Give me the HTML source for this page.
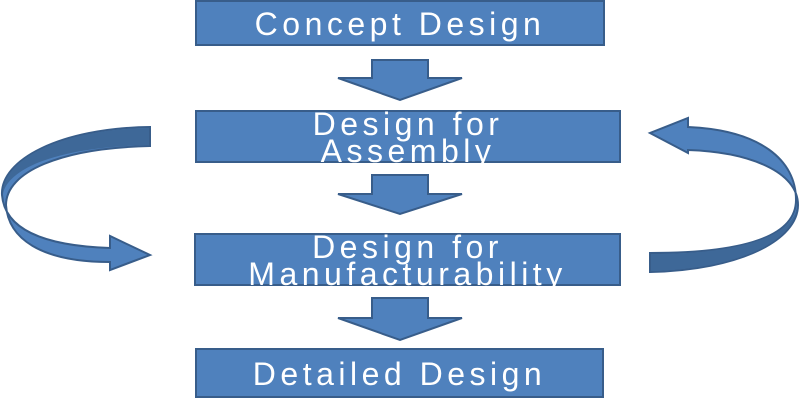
<!DOCTYPE html>
<html><head><style>
body{margin:0;width:800px;height:400px;background:#fff;overflow:hidden;position:relative;font-family:"Liberation Sans",sans-serif}
.b{position:absolute;background:#4f81bd;border:2px solid #385d8a;box-sizing:border-box;color:#fff;font-size:32px;letter-spacing:4.5px;display:flex;align-items:center;justify-content:center;text-align:center;line-height:27px;white-space:nowrap;padding-top:3px}
svg{position:absolute;left:0;top:0}
</style></head><body>
<svg width="800" height="400">
<g fill="#4f81bd" stroke="#385d8a" stroke-width="2">
<polygon points="372,60 428,60 428,78 462,78 400,100 338,78 372,78"/>
<polygon points="372,175 428,175 428,194 462,194 400,214 338,194 372,194"/>
<polygon points="372,298 428,298 428,318 462,318 400,340 338,318 372,318"/>
<path d="M150,127 C60,128 0,160 2,195 C5,232 50,246 110,248 L110,236 L150,255 L110,270 L110,262 C40,262 8,238 6,205 C6,172 60,148 150,146 Z"/>
<path d="M650,272 C740,270 798,240 798,205 C798,172 750,152 688,150 L688,153 L650,133 L688,118 L688,127 C760,130 796,160 796,200 C796,238 740,253 650,253 Z"/>
</g>
<path d="M149,128 C60,129 1,160 3,195 C4,180 30,148 149,145 Z" fill="#3e6898"/>
<path d="M651,271 C740,269 797,240 797,205 C795,236 740,254 651,254 Z" fill="#3e6898"/>
</svg>
<div class="b" style="left:195px;top:0;width:410px;height:46px">Concept Design</div>
<div class="b" style="left:195px;top:110px;width:426px;height:53px">Design for<br>Assembly</div>
<div class="b" style="left:194px;top:233px;width:427px;height:53px">Design for<br>Manufacturability</div>
<div class="b" style="left:195px;top:348px;width:409px;height:50px">Detailed Design</div>
</body></html>
